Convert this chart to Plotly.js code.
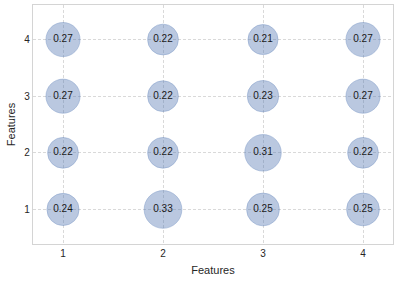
<!DOCTYPE html>
<html><head><meta charset="utf-8">
<script src="https://cdn.plot.ly/plotly-3.0.1.min.js"></script>
<style>html,body{margin:0;padding:0;background:#fff;}#chart{width:399px;height:281px;}</style>
</head><body><div id="chart"></div>
<script>
const xFeatures = [1, 2, 3, 4];
const yFeatures = [1, 2, 3, 4];
// values[row for y] [column for x]
const values = [
  [0.24, 0.33, 0.25, 0.25], // y=1
  [0.22, 0.22, 0.31, 0.22], // y=2
  [0.27, 0.22, 0.23, 0.27], // y=3
  [0.27, 0.22, 0.21, 0.27]  // y=4
];
const xs = [], ys = [], vs = [], labels = [];
yFeatures.forEach((y, i) => {
  xFeatures.forEach((x, j) => {
    xs.push(x); ys.push(y); vs.push(values[i][j]); labels.push(values[i][j].toFixed(2));
  });
});
const trace = {
  type: 'scatter', mode: 'markers+text',
  x: xs, y: ys, text: labels,
  textposition: 'middle center',
  textfont: {family: 'Liberation Sans, Arial, sans-serif', size: 10, color: '#1a1a1a'},
  marker: {
    size: vs, sizemode: 'area', sizeref: 4.64e-4,
    color: 'rgba(76,114,176,0.55)',
    line: {color: 'rgba(76,114,176,0.6)', width: 0.8}
  },
  hoverinfo: 'none', cliponaxis: false
};
const axisCommon = {
  showline: true, mirror: true, linecolor: '#d4d4d4', linewidth: 1.3,
  showgrid: true, gridcolor: '#d0d0d0', griddash: '3px,2px', gridwidth: 0.8,
  zeroline: false, ticks: '', tickfont: {family: 'Liberation Sans, Arial, sans-serif', size: 10, color: '#262626'},
  tickmode: 'array'
};
const layout = {
  width: 399, height: 281,
  margin: {l: 33, r: 6, t: 5, b: 37},
  paper_bgcolor: '#fff', plot_bgcolor: '#fff',
  showlegend: false,
  xaxis: Object.assign({}, axisCommon, {
    range: [0.7, 4.3], tickvals: xFeatures, ticktext: xFeatures.map(String),
    title: {text: 'Features', font: {family: 'Liberation Sans, Arial, sans-serif', size: 11, color: '#262626'}, standoff: 8}
  }),
  yaxis: Object.assign({}, axisCommon, {
    range: [0.39, 4.61], tickvals: yFeatures, ticktext: yFeatures.map(String),
    title: {text: 'Features', font: {family: 'Liberation Sans, Arial, sans-serif', size: 11, color: '#262626'}, standoff: 6}
  })
};
Plotly.newPlot('chart', [trace], layout, {staticPlot: true, displayModeBar: false});
</script></body></html>
